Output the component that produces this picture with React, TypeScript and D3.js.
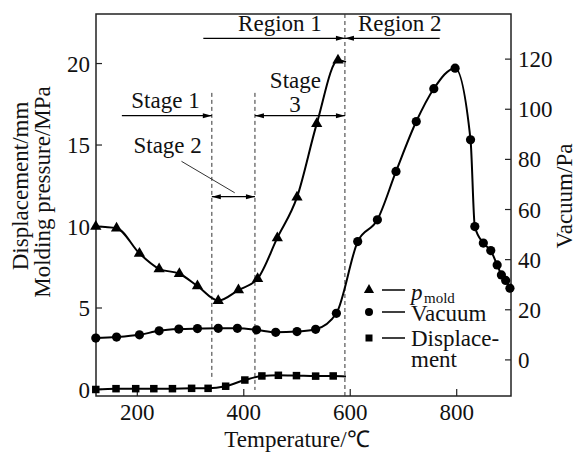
import React from "react";
import * as d3 from "d3";

// values
const pmoldT = [122, 161, 204, 241, 279, 313, 352, 390, 426, 463, 500, 537, 577, 592];
const pmoldV = [10.0, 9.9, 8.35, 7.4, 7.1, 6.35, 5.45, 6.1, 6.8, 9.3, 11.8, 16.3, 20.2, 20.1];

const vacT = [122, 161, 204, 241, 278, 313, 352, 388, 424, 460, 500, 535, 574,
  614, 651, 686, 724, 757, 797, 826, 834, 850, 864, 876, 884, 892, 900];
const vacV = [8.7, 9.1, 10.0, 11.6, 12.3, 12.5, 12.6, 12.6, 12.0, 11.0, 11.3, 12.2, 18.6,
  47.2, 55.9, 75.2, 95.1, 108.2, 116.4, 87.8, 53.2, 46.6, 43.6, 37.9, 33.9, 31.7, 28.6];

const dispT = [122, 160, 197, 231, 266, 302, 333, 366, 402, 434, 465, 499, 535, 568, 592];
const dispV = [0.0, 0.05, 0.05, 0.05, 0.05, 0.07, 0.07, 0.2, 0.58, 0.83, 0.87, 0.85, 0.82, 0.83, 0.8];

const xTicks = [200, 400, 600, 800];
const leftTicks = [0, 5, 10, 15, 20];
const rightTicks = [0, 20, 40, 60, 80, 100, 120];

// boundaries of the stages / regions (temperature)
const stageBounds = [340, 421, 590];

const W = 577, H = 453;
const M = { left: 96, right: 511, top: 14, bottom: 396 };
const FONT = "'Liberation Serif', 'Times New Roman', serif";

export default function App() {
  const x = d3.scaleLinear().domain([122.4, 902]).range([M.left, M.right]);
  const yL = d3.scaleLinear().domain([-0.4, 23.04]).range([M.bottom, M.top]);
  const yR = d3.scaleLinear().domain([-14.4, 138]).range([M.bottom, M.top]);

  const line = d3.line<[number, number]>().x(d => d[0]).y(d => d[1]).curve(d3.curveMonotoneX);
  const pmoldPts = pmoldT.map((t, i) => [x(t), yL(pmoldV[i])] as [number, number]);
  const vacPts = vacT.map((t, i) => [x(t), yR(vacV[i])] as [number, number]);
  const dispPts = dispT.map((t, i) => [x(t), yL(dispV[i])] as [number, number]);

  const tri = d3.symbol().type(d3.symbolTriangle).size(55)()!;
  const sq = 7.5;

  const arrow = (x1: number, x2: number, y: number, left: boolean, right: boolean, key: string) => (
    <g key={key}>
      <line x1={x1} x2={x2} y1={y} y2={y} stroke="#000" strokeWidth={1.2} />
      {right && <path d={`M${x2},${y} l-9,-2.5 l0,5 z`} fill="#000" />}
      {left && <path d={`M${x1},${y} l9,-2.5 l0,5 z`} fill="#000" />}
    </g>
  );

  const txt = { fontFamily: FONT, fontSize: 23, fill: "#111" } as const;

  return (
    <svg width={W} height={H} style={{ position: "absolute", left: 0, top: 0, background: "#fff" }}>
      {/* frame */}
      <rect x={M.left} y={M.top} width={M.right - M.left} height={M.bottom - M.top}
        fill="none" stroke="#222" strokeWidth={1.5} />

      {/* ticks */}
      {xTicks.map(t => (
        <g key={"x" + t}>
          <line x1={x(t)} x2={x(t)} y1={M.bottom} y2={M.bottom - 7} stroke="#222" strokeWidth={1.2} />
          <text x={x(t)} y={420} textAnchor="middle" {...txt}>{t}</text>
        </g>
      ))}
      {leftTicks.map(t => (
        <g key={"l" + t}>
          <line x1={M.left} x2={M.left + 6} y1={yL(t)} y2={yL(t)} stroke="#222" strokeWidth={1.2} />
          <text x={90} y={yL(t)} dy="0.35em" textAnchor="end" {...txt}>{t}</text>
        </g>
      ))}
      {rightTicks.map(t => (
        <g key={"r" + t}>
          <line x1={M.right} x2={M.right - 6} y1={yR(t)} y2={yR(t)} stroke="#222" strokeWidth={1.2} />
          <text x={518} y={yR(t)} dy="0.35em" textAnchor="start" {...txt}>{t}</text>
        </g>
      ))}

      {/* axis titles */}
      <text x={297} y={447} textAnchor="middle" {...txt}>Temperature/℃</text>
      <text transform="translate(28,186) rotate(-90)" textAnchor="middle" {...txt}>Displacement/mm</text>
      <text transform="translate(50,192) rotate(-90)" textAnchor="middle" {...txt}>Molding pressure/MPa</text>
      <text transform="translate(572,196) rotate(-90)" textAnchor="middle" {...txt}>Vacuum/Pa</text>

      {/* dashed boundaries */}
      <line x1={x(stageBounds[0])} x2={x(stageBounds[0])} y1={yL(18.2)} y2={yL(0.58)}
        stroke="#333" strokeWidth={1} strokeDasharray="4,3" />
      <line x1={x(stageBounds[1])} x2={x(stageBounds[1])} y1={yL(18.2)} y2={yL(-0.03)}
        stroke="#333" strokeWidth={1} strokeDasharray="4,3" />
      <line x1={x(stageBounds[2])} x2={x(stageBounds[2])} y1={M.top} y2={M.bottom}
        stroke="#333" strokeWidth={1} strokeDasharray="4,3" />

      {/* region / stage annotations */}
      {arrow(x(324), x(stageBounds[2]), yL(21.55), false, true, "r1")}
      {arrow(x(stageBounds[2]), x(768), yL(21.55), true, false, "r2")}
      <text x={x(468)} y={yL(22.0)} textAnchor="middle" {...txt}>Region 1</text>
      <text x={x(693)} y={yL(22.0)} textAnchor="middle" {...txt}>Region 2</text>

      {arrow(x(171), x(stageBounds[0]), yL(16.8), false, true, "s1")}
      <text x={x(253)} y={yL(17.27)} textAnchor="middle" {...txt}>Stage 1</text>

      {arrow(x(stageBounds[0]), x(stageBounds[1]), yL(11.83), true, true, "s2")}
      <text x={x(257)} y={yL(14.5)} textAnchor="middle" {...txt}>Stage 2</text>
      <line x1={x(283)} y1={yL(14.0)} x2={x(383)} y2={yL(12.07)} stroke="#333" strokeWidth={1} />

      {arrow(x(stageBounds[1]), x(stageBounds[2]), yL(16.8), true, true, "s3")}
      <text x={x(497)} y={yL(18.5)} textAnchor="middle" {...txt}>Stage</text>
      <text x={x(496)} y={yL(17.0)} textAnchor="middle" {...txt}>3</text>

      {/* series lines */}
      <path d={line(pmoldPts)!} fill="none" stroke="#000" strokeWidth={2} />
      <path d={line(vacPts)!} fill="none" stroke="#000" strokeWidth={2} />
      <path d={line(dispPts)!} fill="none" stroke="#000" strokeWidth={2} />

      {/* markers */}
      {pmoldPts.slice(0, -1).map((p, i) => (
        <path key={"pm" + i} d={tri} transform={`translate(${p[0]},${p[1]})`} fill="#000" />
      ))}
      {vacPts.map((p, i) => (
        <circle key={"vc" + i} cx={p[0]} cy={p[1]} r={4.6} fill="#000" />
      ))}
      {dispPts.slice(0, -1).map((p, i) => (
        <rect key={"dp" + i} x={p[0] - sq / 2} y={p[1] - sq / 2} width={sq} height={sq} fill="#000" />
      ))}

      {/* legend */}
      <g>
        <path d={d3.symbol().type(d3.symbolTriangle).size(45)()!} transform="translate(369,290)" fill="#000" />
        <line x1={382} x2={405} y1={290} y2={290} stroke="#000" strokeWidth={1.5} />
        <text x={411} y={300} {...txt} fontStyle="italic">p</text>
        <text x={424} y={303} {...txt} fontSize={15}>mold</text>

        <circle cx={369} cy={312} r={4} fill="#000" />
        <line x1={382} x2={405} y1={312} y2={312} stroke="#000" strokeWidth={1.5} />
        <text x={411} y={321} {...txt}>Vacuum</text>

        <rect x={365.5} y={334.5} width={7} height={7} fill="#000" />
        <line x1={382} x2={405} y1={338} y2={338} stroke="#000" strokeWidth={1.5} />
        <text x={411} y={346} {...txt}>Displace-</text>
        <text x={411} y={367} {...txt}>ment</text>
      </g>
    </svg>
  );
}
